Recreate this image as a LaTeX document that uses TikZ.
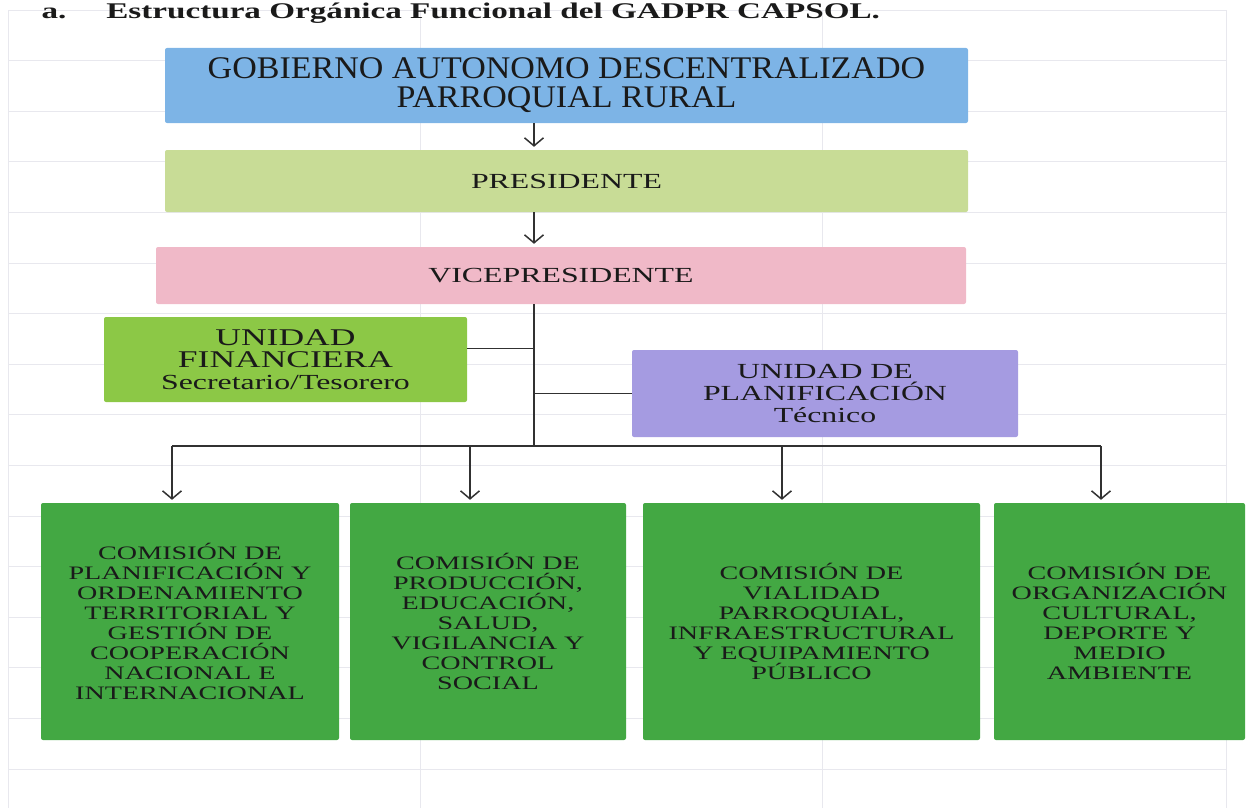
\documentclass[tikz,border=0pt]{standalone}
\usepackage{fontspec}
\setmainfont{Liberation Serif}
\newfontfamily\wideserif[FakeStretch=1.48]{Liberation Serif}
\newfontfamily\topserif[FakeStretch=1.08]{Liberation Serif}
\usetikzlibrary{arrows.meta}
\definecolor{gadblue}{HTML}{7DB4E6}
\definecolor{presgreen}{HTML}{C8DC96}
\definecolor{vicepink}{HTML}{F0B9C8}
\definecolor{fingreen}{HTML}{8CC846}
\definecolor{planlilac}{HTML}{A59BE1}
\definecolor{comgreen}{HTML}{43A843}
\definecolor{ink}{HTML}{1A1A1A}
\definecolor{gridgray}{HTML}{E8E8EE}
\begin{document}
\begin{tikzpicture}[x=1pt,y=-1pt,
    box/.style={rectangle,rounded corners=2pt,inner sep=0pt,align=center,text=ink},
    topbox/.style={box,font=\topserif\fontsize{31.5}{29}\selectfont},
    midbox/.style={box,font=\wideserif\fontsize{21.5}{22}\selectfont},
    combox/.style={box,fill=comgreen,minimum height=237pt,
      font=\wideserif\fontsize{19}{20}\selectfont},
    link/.style={draw=ink!90,line width=1.5pt},
    arr/.style={link,-{Straight Barb[length=8pt,width=19pt]},shorten >=3pt},
    gridline/.style={draw=gridgray,line width=0.8pt}]
  \useasboundingbox (0,0) rectangle (1248,808);%
  %% sheet grid behind the chart
  \foreach \k in {0, ..., 15} \draw[gridline] (8,{10+50.6*\k}) -- (1226,{10+50.6*\k});%
  \foreach \x in {8, 420, 822, 1226} \draw[gridline] (\x,10) -- (\x,808);%

  \node[anchor=base west,text=ink,font=\wideserif\bfseries\fontsize{22.4}{24}\selectfont]
    (title) at (38,19) {a.\hspace{40pt}Estructura Orgánica Funcional del GADPR CAPSOL.};

  %% upper chain
  \node[topbox,fill=gadblue,minimum width=803pt,minimum height=75pt] (gad) at (566.5,85.5)
    {GOBIERNO AUTONOMO DESCENTRALIZADO\\PARROQUIAL RURAL};
  \node[midbox,fill=presgreen,minimum width=803pt,minimum height=62pt] (pres) at (566.5,181)
    {PRESIDENTE};
  \node[midbox,fill=vicepink,minimum width=810pt,minimum height=57pt] (vice) at (561,275.5)
    {VICEPRESIDENTE};

  %% staff units
  \node[midbox,fill=fingreen,minimum width=363pt,minimum height=85pt] (fin) at (285.5,359.5)
    {{\fontsize{24}{22}\selectfont UNIDAD}\\{\fontsize{24}{22}\selectfont FINANCIERA}\\Secretario/Tesorero};
  \node[midbox,fill=planlilac,minimum width=386pt,minimum height=87pt] (plan) at (825,393.5)
    {UNIDAD DE\\PLANIFICACIÓN\\Técnico};

  %% commissions
  \node[combox,minimum width=298pt] (com1) at (190,621.5)
    {COMISIÓN DE\\PLANIFICACIÓN Y\\ORDENAMIENTO\\TERRITORIAL Y\\GESTIÓN DE\\COOPERACIÓN\\NACIONAL E\\INTERNACIONAL};
  \node[combox,minimum width=276pt] (com2) at (488,621.5)
    {COMISIÓN DE\\PRODUCCIÓN,\\EDUCACIÓN,\\SALUD,\\VIGILANCIA Y\\CONTROL\\SOCIAL};
  \node[combox,minimum width=337pt] (com3) at (811.5,621.5)
    {COMISIÓN DE\\VIALIDAD\\PARROQUIAL,\\INFRAESTRUCTURAL\\Y EQUIPAMIENTO\\PÚBLICO};
  \node[combox,minimum width=251pt] (com4) at (1119.5,621.5)
    {COMISIÓN DE\\ORGANIZACIÓN\\CULTURAL,\\DEPORTE Y\\MEDIO\\AMBIENTE};

  %% connectors
  \coordinate (spine) at (534,446);
  \coordinate (drop1) at (172,446);
  \coordinate (drop2) at (470,446);
  \coordinate (drop3) at (782,446);
  \coordinate (drop4) at (1101,446);
  \draw[arr] (gad.south -| spine) -- (pres.north -| spine);
  \draw[arr] (pres.south -| spine) -- (vice.north -| spine);
  \draw[link] (vice.south -| spine) -- (spine);
  \draw[link] ([yshift=11pt]fin.east) -- ([yshift=11pt]fin.east -| spine);
  \draw[link] (plan.west) -- (plan.west -| spine);
  \draw[link] (drop1) -- (drop4);
  \draw[arr] (drop1) -- (drop1 |- com1.north);
  \draw[arr] (drop2) -- (drop2 |- com2.north);
  \draw[arr] (drop3) -- (drop3 |- com3.north);
  \draw[arr] (drop4) -- (drop4 |- com4.north);
\end{tikzpicture}
\end{document}
